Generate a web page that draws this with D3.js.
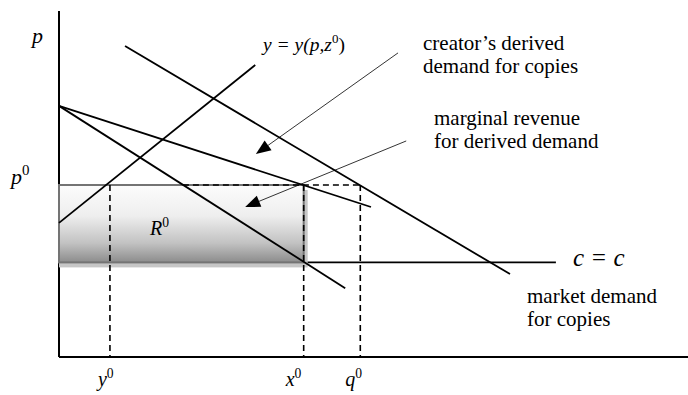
<!DOCTYPE html>
<html>
<head>
<meta charset="utf-8">
<script src="https://cdn.jsdelivr.net/npm/d3@7"></script>
<style>
  html, body { margin: 0; padding: 0; background: #fff; }
  svg { display: block; }
  text { font-family: "Liberation Serif", "Times New Roman", serif; fill: #000; }
</style>
</head>
<body>
<svg id="chart" width="688" height="395"></svg>
<script>
// ---- data (economic units) ----
const priceP0 = 5.0;          // p0
const costC = 2.75;           // c = c
const quantities = { y0: 0.81, x0: 3.89, q0: 4.79 };
const marketDemand = [[1.05, 9.04], [7.17, 2.41]];
const derivedDemand = [[0, 7.30], [4.96, 4.36]];
const marginalRevenue = [[0, 7.30], [4.55, 2.0]];
const supplyCurve = [[0, 3.90], [3.12, 8.49]];
const costLine = [[quantities.x0, costC], [7.90, costC]];
const dashStartX = 1.97;
const arrows = [
  { from: [5.39, 8.84], to: [3.13, 5.90] },
  { from: [5.52, 6.28], to: [2.96, 4.36] }
];
const xTickLabels = ["y", "x", "q"];

// ---- scales ----
const x = d3.scaleLinear().domain([0, 10]).range([59, 688]);
const y = d3.scaleLinear().domain([0, 10]).range([357, 13]);

const svg = d3.select("#chart");
const defs = svg.append("defs");
const grad = defs.append("linearGradient").attr("id", "rectGrad")
  .attr("x1", 0).attr("y1", 0).attr("x2", 0).attr("y2", 1);
grad.append("stop").attr("offset", 0).attr("stop-color", "#fcfcfc");
grad.append("stop").attr("offset", 0.4).attr("stop-color", "#eeeeee");
grad.append("stop").attr("offset", 0.75).attr("stop-color", "#c2c2c2");
grad.append("stop").attr("offset", 1).attr("stop-color", "#8c8c8c");

const line = d3.line().x(d => x(d[0])).y(d => y(d[1]));

// axes
svg.append("line").attr("x1", x(0)).attr("x2", x(0)).attr("y1", y(0)).attr("y2", y(10.06))
  .attr("stroke", "#000").attr("stroke-width", 2);
svg.append("line").attr("x1", x(0)).attr("x2", x(10)).attr("y1", y(0)).attr("y2", y(0))
  .attr("stroke", "#000").attr("stroke-width", 2);

// cost line
svg.append("path").attr("d", line(costLine)).attr("fill", "none")
  .attr("stroke", "#000").attr("stroke-width", 1.8);

// revenue rectangle R0 with shadow
svg.append("rect")
  .attr("x", x(0)).attr("y", y(priceP0) + 5)
  .attr("width", x(quantities.x0) - x(0) + 4).attr("height", y(costC) - y(priceP0))
  .attr("fill", "#c6c6c6");
svg.append("rect")
  .attr("x", x(0)).attr("y", y(priceP0))
  .attr("width", x(quantities.x0) - x(0)).attr("height", y(costC) - y(priceP0))
  .attr("fill", "url(#rectGrad)").attr("stroke", "#747474").attr("stroke-width", 2);

// curves
[marketDemand, derivedDemand, marginalRevenue, supplyCurve].forEach(d => {
  svg.append("path").attr("d", line(d)).attr("fill", "none")
    .attr("stroke", "#000").attr("stroke-width", 1.8);
});

// dashed guides
const dash = "6,4";
svg.append("line").attr("x1", x(dashStartX)).attr("x2", x(quantities.q0))
  .attr("y1", y(priceP0)).attr("y2", y(priceP0))
  .attr("stroke", "#000").attr("stroke-width", 1.6).attr("stroke-dasharray", dash);
Object.values(quantities).forEach(q => {
  svg.append("line").attr("x1", x(q)).attr("x2", x(q))
    .attr("y1", y(priceP0)).attr("y2", y(0))
    .attr("stroke", "#000").attr("stroke-width", 1.6).attr("stroke-dasharray", dash);
});

// arrows
arrows.forEach(a => {
  const x1 = x(a.from[0]), y1 = y(a.from[1]), x2 = x(a.to[0]), y2 = y(a.to[1]);
  const ang = Math.atan2(y2 - y1, x2 - x1);
  const L = 15, Wd = 6;
  const bx = x2 - L * Math.cos(ang), by = y2 - L * Math.sin(ang);
  svg.append("line").attr("x1", x1).attr("y1", y1).attr("x2", bx).attr("y2", by)
    .attr("stroke", "#000").attr("stroke-width", 0.8);
  const px = -Math.sin(ang) * Wd, py = Math.cos(ang) * Wd;
  svg.append("path")
    .attr("d", `M${x2},${y2}L${bx + px},${by + py}L${bx - px},${by - py}Z`)
    .attr("fill", "#000");
});

// labels
function supLabel(tx, ty, base, sup, size) {
  const t = svg.append("text").attr("x", tx).attr("y", ty)
    .attr("font-size", size).attr("font-style", "italic");
  t.append("tspan").text(base);
  t.append("tspan").attr("dy", -size * 0.42).attr("font-size", size * 0.68)
    .attr("font-style", "normal").text(sup);
  return t;
}
svg.append("text").attr("x", 32).attr("y", 43).attr("font-size", 22)
  .attr("font-style", "italic").text("p");
supLabel(11, 184, "p", "0", 22);
const qKeys = ["y0", "x0", "q0"];
const qOffsets = [-12, -18, -15];
qKeys.forEach((k, i) => {
  supLabel(x(quantities[k]) + qOffsets[i], 386, xTickLabels[i], "0", 20);
});
supLabel(150, 235, "R", "0", 20);

// y = y(p,z0)
const t1 = svg.append("text").attr("x", 263).attr("y", 51).attr("font-size", 19.5)
  .attr("font-style", "italic");
t1.append("tspan").text("y = y(p,z");
t1.append("tspan").attr("dy", -8).attr("font-size", 13).attr("font-style", "normal").text("0");
t1.append("tspan").attr("dy", 8).attr("font-style", "normal").text(")");

svg.append("text").attr("x", 573).attr("y", 266).attr("font-size", 25)
  .attr("font-style", "italic").text("c = c");

function block(tx, ty, lines) {
  lines.forEach((s, i) => {
    svg.append("text").attr("x", tx).attr("y", ty + i * 23).attr("font-size", 21).text(s);
  });
}
block(423, 50, ["creator\u2019s derived", "demand for copies"]);
block(434, 125, ["marginal revenue", "for derived demand"]);
block(527, 303, ["market demand", "for copies"]);
</script>
</body>
</html>
